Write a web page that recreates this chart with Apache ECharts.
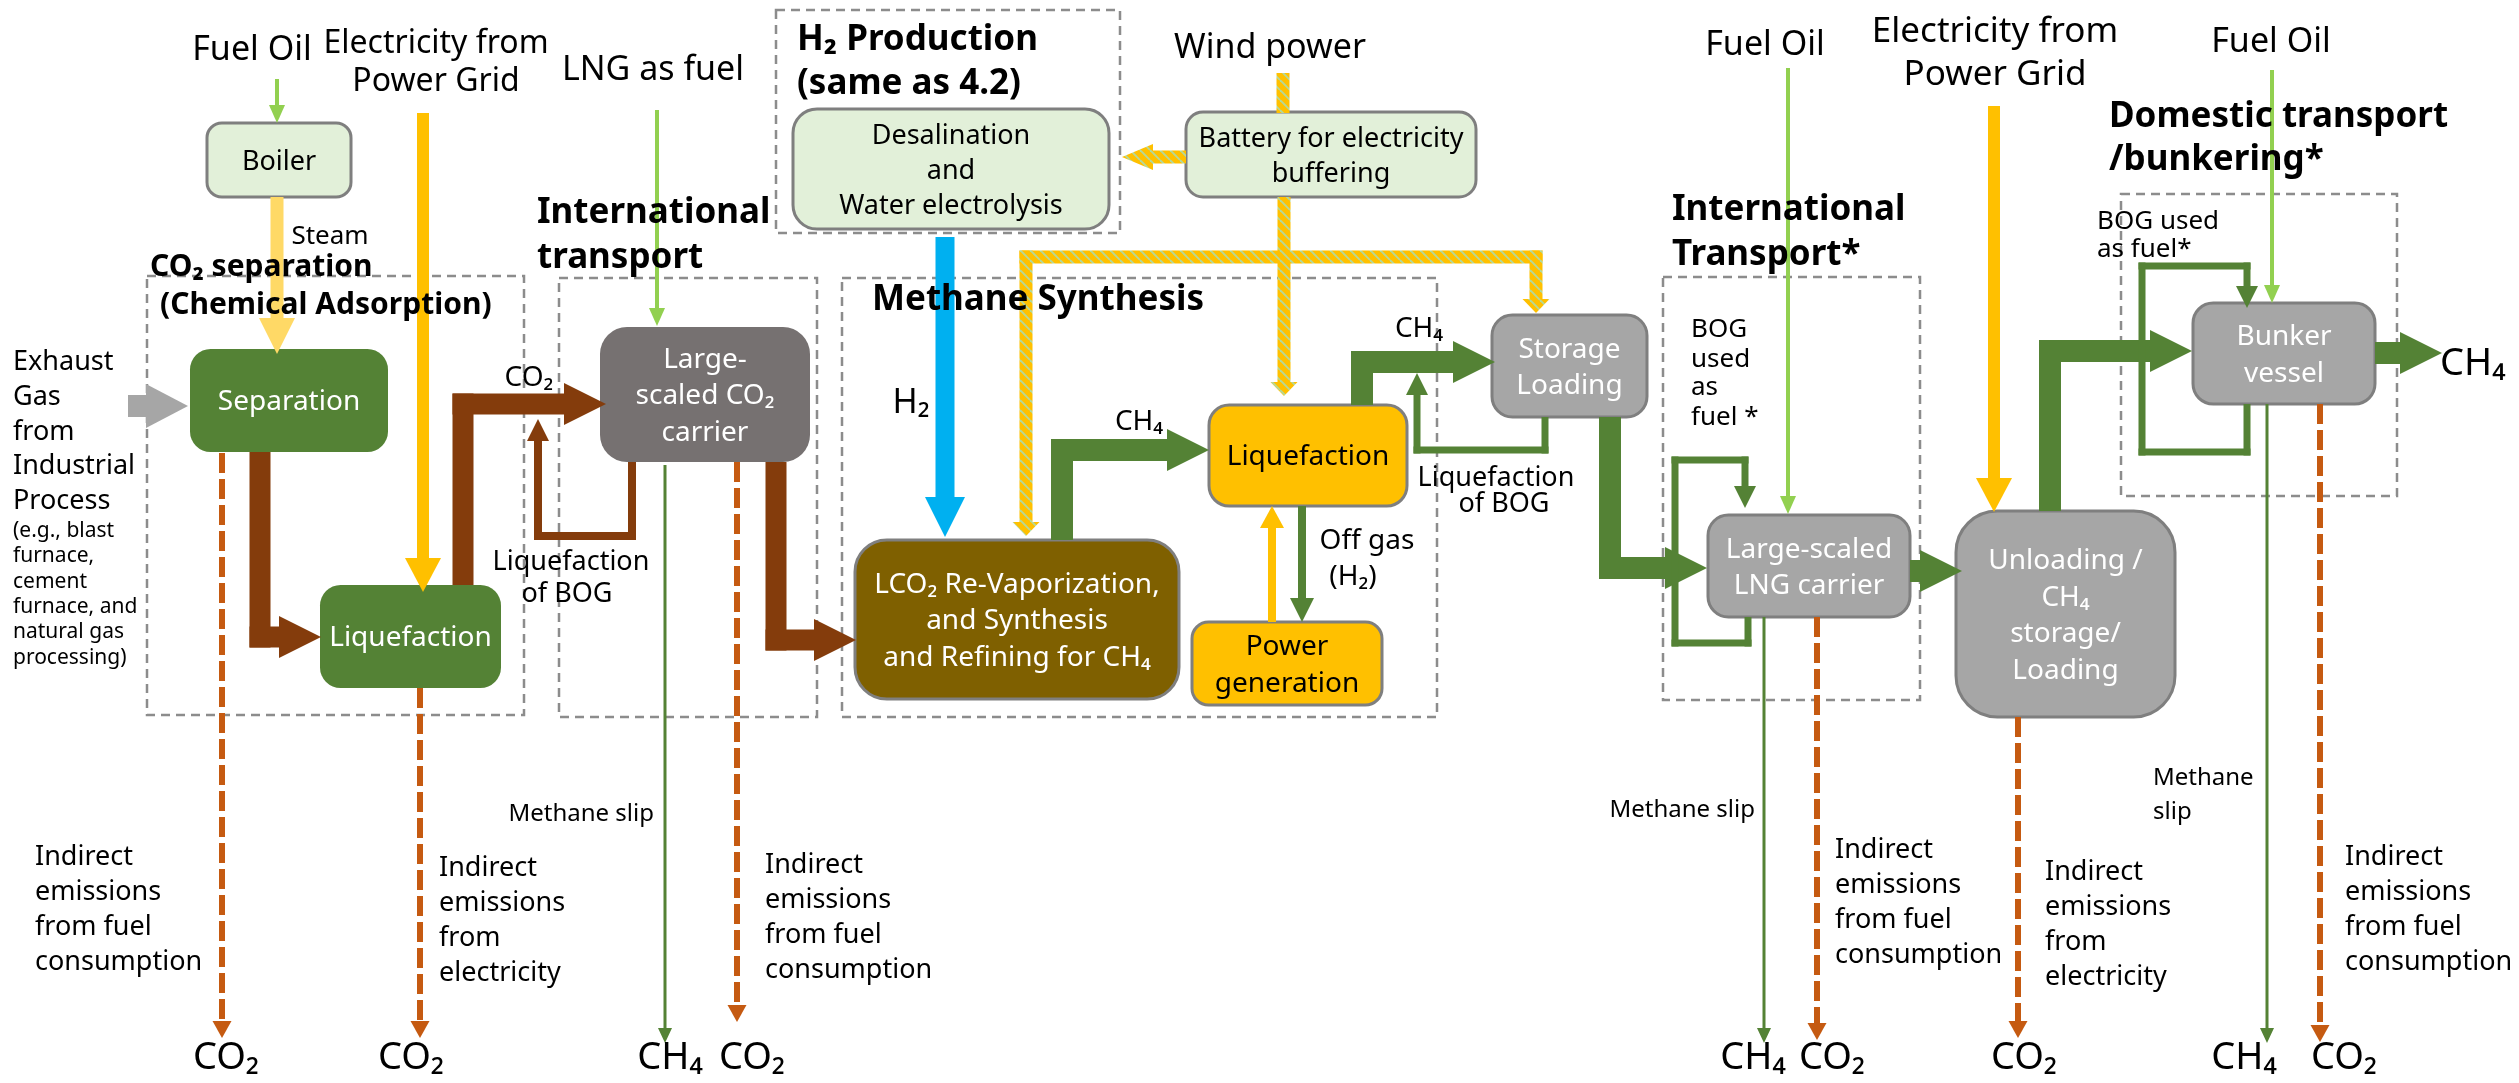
<!DOCTYPE html>
<html><head><meta charset="utf-8">
<script src="https://cdn.jsdelivr.net/npm/echarts@6/dist/echarts.min.js"></script>
<style>html,body{margin:0;padding:0;background:#fff}#c{width:2519px;height:1083px}</style>
</head><body><div id="c"></div>
<script>
const CANVAS_W = 2519, CANVAS_H = 1083;

// Dashed stage frames [x1,y1,x2,y2] in diagram units
const stageFrames = [[147,276,524,715],[559,278,817,717],[776,10,1120,233],[842,278,1437,717],[1663,277,1920,700],[2121,194,2397,496]];

// Process nodes
const nodeLabels = [
  ['Boiler'], ['Separation'], ['Liquefaction'], ['Large-','scaled CO₂','carrier'],
  ['Desalination','and','Water electrolysis'], ['Battery for electricity','buffering'],
  ['LCO₂ Re-Vaporization,','and Synthesis','and Refining for CH₄'], ['Liquefaction'], ['Power','generation'],
  ['Storage','Loading'], ['Large-scaled','LNG carrier'], ['Unloading /','CH₄','storage/','Loading'], ['Bunker','vessel']
];
const nodeRects = [
  [207,123,351,197],[190,349,388,452],[320,585,501,688],[600,327,810,462],
  [793,109,1109,229],[1186,112,1476,197],
  [855,540,1179,699],[1209,405,1407,506],[1192,622,1382,705],
  [1492,315,1647,417],[1708,515,1910,617],[1956,511,2175,717],[2193,303,2375,404]
];
const nodeKinds = ['pale','green','green','dark','pale','pale','olive','yellow','yellow','gray','gray','gray','gray'];

// Flows: polyline points and flow type
const flowPaths = [
  [[277,79],[277,123]],
  [[277,197],[277,354]],
  [[423,113],[423,592]],
  [[128,406],[188,406]],
  [[260,452],[260,637],[321,637]],
  [[463,585],[463,404],[606,404]],
  [[632,462],[632,536],[538,536],[538,419]],
  [[657,110],[657,326]],
  [[776,462],[776,640],[856,640]],
  [[665,465],[665,1043]],
  [[222,453],[222,1038]],
  [[420,688],[420,1038]],
  [[737,462],[737,1022]],
  [[945,237],[945,537]],
  [[1283,73],[1283,113]],
  [[1186,157],[1122,157]],
  [[1284,197],[1284,396]],
  [[1284,257],[1026,257],[1026,536]],
  [[1284,257],[1536,257],[1536,313]],
  [[1062,540],[1062,450],[1209,450]],
  [[1272,622],[1272,506]],
  [[1302,506],[1302,622]],
  [[1362,405],[1362,362],[1495,362]],
  [[1545,417],[1545,450],[1417,450],[1417,373]],
  [[1610,417],[1610,568],[1707,568]],
  [[1788,68],[1788,514]],
  [[1748,617],[1748,643],[1675,643],[1675,460],[1745,460],[1745,508]],
  [[1910,571],[1962,571]],
  [[1994,106],[1994,512]],
  [[2050,511],[2050,351],[2192,351]],
  [[2247,404],[2247,452],[2142,452],[2142,266],[2247,266],[2247,308]],
  [[2272,70],[2272,303]],
  [[2375,353],[2442,353]],
  [[1764,617],[1764,1043]],
  [[2267,404],[2267,1043]],
  [[1817,617],[1817,1040]],
  [[2018,717],[2018,1038]],
  [[2320,404],[2320,1042]]
];
const flowKinds = [
  'fuel','steam','elec','exhaust','co2','co2','co2bog','fuel','co2','slip',
  'emis','emis','emis','h2','windline','windleft','wind','wind','wind','ch4',
  'power','offgas','ch4','bog','ch4','fuel','bog','ch4','elec','ch4',
  'bog','fuel','ch4','slip','slip','emis','emis','emis'
];

// Text annotations: [text, x, y, class, align]
const annotations = [
  ['Fuel Oil',252,50,'src34','center'],
  ['Electricity from',436,44,'src32','center'],
  ['Power Grid',436,82,'src32','center'],
  ['LNG as fuel',653,70,'src34','center'],
  ['Steam',330,237,'l26','center'],
  ['CO₂ separation',150,267,'h30','left'],
  ['(Chemical Adsorption)',160,305,'h30','left'],
  ['International',537,213,'h35','left'],
  ['transport',537,258,'h35','left'],
  ['H₂ Production',797,40,'h35','left'],
  ['(same as 4.2)',797,84,'h35','left'],
  ['Wind power',1270,48,'src34','center'],
  ['Methane Synthesis',872,300,'h35','left'],
  ['Exhaust',13,362,'l27','left'],
  ['Gas',13,397,'l27','left'],
  ['from',13,432,'l27','left'],
  ['Industrial',13,466,'l27','left'],
  ['Process',13,501,'l27','left'],
  ['(e.g., blast',13,531,'s21','left'],
  ['furnace,',13,556,'s21','left'],
  ['cement',13,582,'s21','left'],
  ['furnace, and',13,607,'s21','left'],
  ['natural gas',13,632,'s21','left'],
  ['processing)',13,658,'s21','left'],
  ['CO₂',529,378,'l28','center'],
  ['Liquefaction',571,562,'l27','center'],
  ['of BOG',567,594,'l27','center'],
  ['H₂',911,403,'l34','center'],
  ['CH₄',1139,422,'l28','center'],
  ['Off gas',1367,541,'l28','center'],
  ['(H₂)',1353,577,'l28','center'],
  ['CH₄',1419,329,'l28','center'],
  ['Liquefaction',1496,478,'l27','center'],
  ['of BOG',1504,504,'l27','center'],
  ['Fuel Oil',1765,45,'src34','center'],
  ['Electricity from',1995,32,'src35','center'],
  ['Power Grid',1995,75,'src35','center'],
  ['Fuel Oil',2271,42,'src34','center'],
  ['International',1672,210,'h35','left'],
  ['Transport*',1672,255,'h35','left'],
  ['Domestic transport',2109,117,'h35','left'],
  ['/bunkering*',2109,160,'h35','left'],
  ['BOG',1691,330,'l26','left'],
  ['used',1691,360,'l26','left'],
  ['as',1691,388,'l26','left'],
  ['fuel *',1691,418,'l26','left'],
  ['BOG used',2097,222,'l26','left'],
  ['as fuel*',2097,250,'l26','left'],
  ['CH₄',2440,364,'sp38','left'],
  ['Indirect',35,857,'l27','left'],['emissions',35,892,'l27','left'],['from fuel',35,927,'l27','left'],['consumption',35,962,'l27','left'],
  ['Indirect',439,868,'l27','left'],['emissions',439,903,'l27','left'],['from',439,938,'l27','left'],['electricity',439,973,'l27','left'],
  ['Indirect',765,865,'l27','left'],['emissions',765,900,'l27','left'],['from fuel',765,935,'l27','left'],['consumption',765,970,'l27','left'],
  ['Indirect',1835,850,'l27','left'],['emissions',1835,885,'l27','left'],['from fuel',1835,920,'l27','left'],['consumption',1835,955,'l27','left'],
  ['Indirect',2045,872,'l27','left'],['emissions',2045,907,'l27','left'],['from',2045,942,'l27','left'],['electricity',2045,977,'l27','left'],
  ['Indirect',2345,857,'l27','left'],['emissions',2345,892,'l27','left'],['from fuel',2345,927,'l27','left'],['consumption',2345,962,'l27','left'],
  ['Methane slip',654,814,'l24','right'],
  ['Methane slip',1755,810,'l24','right'],
  ['Methane',2153,778,'l24','left'],['slip',2153,812,'l24','left'],
  ['CO₂',226,1058,'sp38','center'],['CO₂',411,1058,'sp38','center'],['CH₄',670,1058,'sp38','center'],['CO₂',752,1058,'sp38','center'],
  ['CH₄',1753,1058,'sp38','center'],['CO₂',1832,1058,'sp38','center'],['CO₂',2024,1058,'sp38','center'],
  ['CH₄',2244,1058,'sp38','center'],['CO₂',2344,1058,'sp38','center']
];

// ---------------- styles ----------------
const FONT = '"Noto Sans", "Open Sans", "DejaVu Sans", sans-serif';
const textClasses = {
  src34:{size:34,weight:'normal'}, src35:{size:35,weight:'normal'}, src32:{size:32,weight:'normal'},
  h35:{size:35,weight:'bold'}, h30:{size:30,weight:'bold'},
  l34:{size:34,weight:'normal'}, l28:{size:28,weight:'normal'}, l27:{size:27,weight:'normal'},
  l26:{size:26,weight:'normal'}, l24:{size:24,weight:'normal'}, s21:{size:21,weight:'normal'},
  sp38:{size:38,weight:'normal'}
};
const nodeStyles = {
  pale:{fill:'#E2F0D9',stroke:'#7F7F7F',lw:3,text:'#000',size:27},
  green:{fill:'#548235',stroke:null,lw:0,text:'#fff',size:28},
  dark:{fill:'#767171',stroke:null,lw:0,text:'#fff',size:28},
  olive:{fill:'#7F6000',stroke:'#7F7F7F',lw:3,text:'#fff',size:28},
  yellow:{fill:'#FFC000',stroke:'#7F7F7F',lw:3,text:'#000',size:28},
  gray:{fill:'#A6A6A6',stroke:'#7F7F7F',lw:3,text:'#fff',size:28}
};
function makeHatch(){
  const s = 10, c = document.createElement('canvas');
  c.width = s; c.height = s;
  const g = c.getContext('2d');
  g.fillStyle = '#FFC000'; g.fillRect(0,0,s,s);
  g.strokeStyle = '#B5D99A'; g.lineWidth = 1.9;
  for (const k of [-s,0,s]) { g.beginPath(); g.moveTo(k,0); g.lineTo(k+s,s); g.stroke(); }
  return c;
}
const hatch = {image: makeHatch(), repeat: 'repeat'};
const flowStyles = {
  fuel:{fill:'#92D050',w:4,hl:18,hw:16},
  steam:{fill:'#FFD966',w:13,hl:36,hw:36},
  elec:{fill:'#FFC000',w:12,hl:34,hw:36},
  exhaust:{fill:'#A6A6A6',w:22,hl:42,hw:44},
  co2:{fill:'#843C0C',w:21,hl:42,hw:42},
  co2bog:{fill:'#843C0C',w:8,hl:22,hw:22},
  ch4:{fill:'#548235',w:22,hl:42,hw:42},
  bog:{fill:'#548235',w:7,hl:22,hw:22},
  offgas:{fill:'#548235',w:8,hl:24,hw:24},
  power:{fill:'#FFC000',w:8,hl:22,hw:24},
  h2:{fill:'#00B0F0',w:19,hl:40,hw:40},
  wind:{fill:hatch,w:13,hl:14,hw:27},
  windleft:{fill:hatch,w:13,hl:31,hw:26},
  windline:{fill:hatch,w:13,hl:0,hw:0},
  slip:{fill:'#548235',w:3,hl:15,hw:14},
  emis:{fill:'#C55A11',w:6,hl:17,hw:19,dash:[20,6]}
};

// ---------------- renderers ----------------
function renderFrame(params, api){
  const r = stageFrames[params.dataIndex];
  const p1 = api.coord([r[0],r[1]]), p2 = api.coord([r[2],r[3]]);
  return {type:'rect', shape:{x:p1[0],y:p1[1],width:p2[0]-p1[0],height:p2[1]-p1[1]},
    style:{fill:'none',stroke:'#8C8C8C',lineWidth:2.5,lineDash:[9,6]}};
}
function renderNode(params, api){
  const i = params.dataIndex, r = nodeRects[i], st = nodeStyles[nodeKinds[i]];
  const p1 = api.coord([r[0],r[1]]), p2 = api.coord([r[2],r[3]]);
  const w = p2[0]-p1[0], h = p2[1]-p1[1];
  const rad = Math.min(w,h)*0.2;
  const children = [{type:'rect', shape:{x:p1[0],y:p1[1],width:w,height:h,r:rad},
    style:{fill:st.fill, stroke:st.stroke||'none', lineWidth:st.lw}}];
  const lines = nodeLabels[i];
  const lh = st.size*1.3;
  const cx = (p1[0]+p2[0])/2, cy = (p1[1]+p2[1])/2 + 2;
  lines.forEach((t,k)=>{
    children.push({type:'text', style:{text:t, x:cx, y:cy+(k-(lines.length-1)/2)*lh,
      fill:st.text, font:`normal ${st.size}px ${FONT}`, align:'center', verticalAlign:'middle'}});
  });
  return {type:'group', children};
}
function rectPoly(P,Q,w,e0,e1){
  const dx=Q[0]-P[0], dy=Q[1]-P[1], L=Math.hypot(dx,dy)||1;
  const ux=dx/L, uy=dy/L, nx=-uy*w/2, ny=ux*w/2;
  const a=[P[0]-ux*e0, P[1]-uy*e0], b=[Q[0]+ux*e1, Q[1]+uy*e1];
  return [[a[0]+nx,a[1]+ny],[b[0]+nx,b[1]+ny],[b[0]-nx,b[1]-ny],[a[0]-nx,a[1]-ny]];
}
function renderFlow(params, api){
  const i = params.dataIndex, st = flowStyles[flowKinds[i]];
  const pts = flowPaths[i].map(p=>api.coord(p));
  const n = pts.length, children = [];
  const T = pts[n-1], Pm = pts[n-2];
  const dx=T[0]-Pm[0], dy=T[1]-Pm[1], L=Math.hypot(dx,dy)||1, ux=dx/L, uy=dy/L;
  const shaft = pts.slice();
  if (st.hl>0) shaft[n-1] = [T[0]-ux*(st.hl-1), T[1]-uy*(st.hl-1)];
  if (st.dash) {
    children.push({type:'polyline', shape:{points:shaft},
      style:{stroke:st.fill, lineWidth:st.w, lineDash:st.dash, fill:'none', lineCap:'butt'}});
  } else {
    for (let k=0;k<n-1;k++){
      const e0 = k>0 ? st.w/2 : 0, e1 = k<n-2 ? st.w/2 : 0;
      children.push({type:'polygon', shape:{points:rectPoly(shaft[k],shaft[k+1],st.w,e0,e1)},
        style:{fill:st.fill, stroke:'none'}});
    }
  }
  if (st.hl>0){
    const B=[T[0]-ux*st.hl, T[1]-uy*st.hl], nx=-uy*st.hw/2, ny=ux*st.hw/2;
    children.push({type:'polygon', shape:{points:[[T[0],T[1]],[B[0]+nx,B[1]+ny],[B[0]-nx,B[1]-ny]]},
      style:{fill:st.fill, stroke:'none'}});
  }
  return {type:'group', children};
}
function renderText(params, api){
  const a = annotations[params.dataIndex], c = textClasses[a[3]];
  const p = api.coord([a[1],a[2]]);
  return {type:'text', style:{text:a[0], x:p[0], y:p[1], fill:'#000',
    font:`${c.weight} ${c.size}px ${FONT}`, align:a[4], verticalAlign:'middle'}};
}

const chart = echarts.init(document.getElementById('c'), null, {renderer:'canvas'});
chart.setOption({
  animation:false,
  backgroundColor:'#fff',
  grid:{left:0,right:0,top:0,bottom:0},
  xAxis:{type:'value',min:0,max:CANVAS_W,show:false},
  yAxis:{type:'value',min:0,max:CANVAS_H,inverse:true,show:false},
  series:[
    {type:'custom', silent:true, z:1, renderItem:renderFrame, data:stageFrames.map((r,i)=>[i,0])},
    {type:'custom', silent:true, z:2, renderItem:renderNode, data:nodeRects.map((r,i)=>[i,0])},
    {type:'custom', silent:true, z:3, renderItem:renderFlow, data:flowPaths.map((r,i)=>[i,0])},
    {type:'custom', silent:true, z:4, renderItem:renderText, data:annotations.map((r,i)=>[i,0])}
  ]
});
</script></body></html>
